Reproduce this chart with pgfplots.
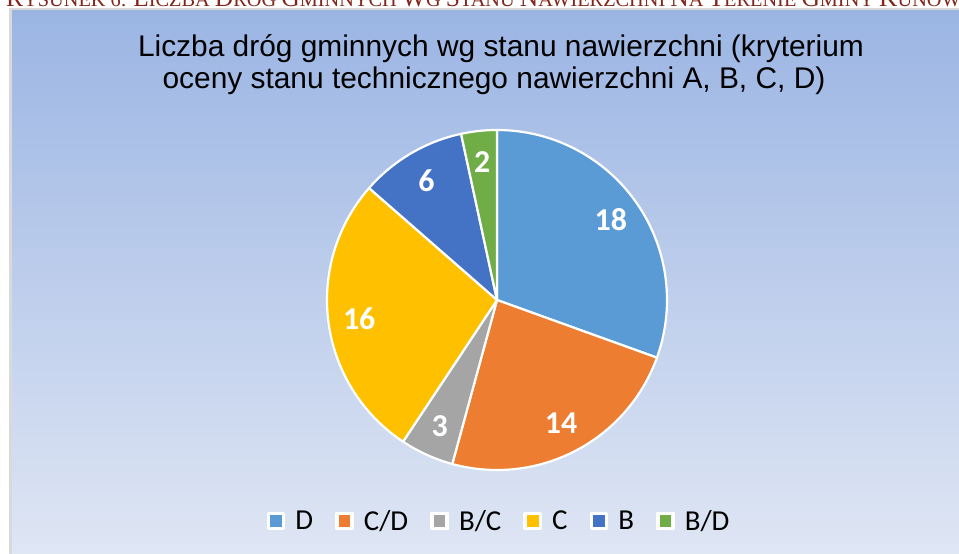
\documentclass[border=0pt]{standalone}
\usepackage{pgfplots}
\usepackage{pgfplotstable}
\pgfplotsset{compat=1.18}
\usepackage{fontspec}
\setmainfont{Liberation Sans}
\newfontfamily\titlefont{Liberation Sans}
\newfontfamily\calib{Carlito}
\newfontfamily\capfont{Liberation Serif}

\definecolor{colD}{HTML}{5B9BD5}
\definecolor{colCD}{HTML}{ED7D31}
\definecolor{colBC}{HTML}{A5A5A5}
\definecolor{colC}{HTML}{FFC000}
\definecolor{colB}{HTML}{4472C4}
\definecolor{colBD}{HTML}{70AD47}
\definecolor{bgTop}{HTML}{9BB5E3}
\definecolor{bgBot}{HTML}{DFE6F4}
\definecolor{frame}{HTML}{D9D9D9}
\definecolor{capred}{RGB}{128,38,28}

\pgfplotstableread{
label value
D 18
C/D 14
B/C 3
C 16
B 6
B/D 2
}\piedata

% pie geometry (pixel units, y measured upward)
\def\cx{497}
\def\cy{254}
\def\R{170}
\def\Rl{139}

\gdef\total{0}
\foreach \k in {0,...,5}{%
  \pgfplotstablegetelem{\k}{value}\of\piedata
  \pgfmathsetmacro\tt{\total+\pgfplotsretval}%
  \xdef\total{\tt}%
}
\gdef\cum{0}
\foreach \k in {0,...,5}{%
  \pgfplotstablegetelem{\k}{value}\of\piedata
  \edef\val{\pgfplotsretval}%
  \pgfmathsetmacro\sA{90-360*(\cum/\total)}%
  \pgfmathsetmacro\cA{\cum+\val}%
  \pgfmathsetmacro\eA{90-360*(\cA/\total)}%
  \pgfmathsetmacro\mA{(\sA+\eA)/2}%
  \pgfmathsetmacro\lx{\cx+\Rl*cos(\mA)}%
  \pgfmathsetmacro\ly{\cy+\Rl*sin(\mA)}%
  \expandafter\xdef\csname sa\k\endcsname{\sA}%
  \expandafter\xdef\csname ea\k\endcsname{\eA}%
  \expandafter\xdef\csname lx\k\endcsname{\lx}%
  \expandafter\xdef\csname ly\k\endcsname{\ly}%
  \pgfmathtruncatemacro\vv{\val}%
  \expandafter\xdef\csname v\k\endcsname{\vv}%
  \xdef\cum{\cA}%
}

\newcommand\slice[3]{% index, colour, legend text
  \addplot[fill=#2, draw=white, line width=2.2bp, line join=round,
    domain=\csname ea#1\endcsname:\csname sa#1\endcsname, samples=90, variable=\t]
    ({\cx+\R*cos(\t)}, {\cy+\R*sin(\t)}) -- (axis cs:\cx,\cy) -- cycle;
  \addlegendentry{#3}
}
\newcommand\B[1]{{\fontsize{25.6}{25.6}\selectfont #1}}

\begin{document}
\begin{tikzpicture}
\begin{axis}[
  width=959bp, height=554bp, scale only axis,
  xmin=0, xmax=959, ymin=0, ymax=554,
  hide axis, clip=false,
  legend columns=-1,
  legend style={draw=none, fill=none, at={(axis cs:498,33)}, anchor=center,
    font=\calib\fontsize{29}{29}\selectfont,
    nodes={inner sep=0pt},
    /tikz/every odd column/.append style={column sep=10bp},
    /tikz/every even column/.append style={column sep=22bp},
    inner sep=0pt, outer sep=0pt},
  legend image code/.code={%
    \draw[draw=white, line width=3.6bp, fill] (1.8bp,-7.6bp) rectangle (17bp,7.6bp);},
  legend cell align=left,
]
% background
\fill[frame] (axis cs:9,0) rectangle (axis cs:975,546);
\shade[top color=bgTop, bottom color=bgBot] (axis cs:12,0) rectangle (axis cs:975,543);
% caption (cut off at the top)
\node[anchor=base west, inner sep=0pt, text=capred,
  font=\capfont\fontsize{20.4}{20.4}\selectfont] at (axis cs:6,547)
  {\B{R}YSUNEK 6: \B{L}ICZBA \B{D}RÓG \B{G}MINNYCH \B{W}G \B{S}TANU \B{N}AWIERZCHNI \B{N}A \B{T}ERENIE \B{G}MINY \B{K}UNÓW};
% title
\node[inner sep=0pt, anchor=base, text=black,
  font=\titlefont\fontsize{30}{32}\selectfont] at (axis cs:501,497)
  {Liczba dróg gminnych wg stanu nawierzchni (kryterium};
\node[inner sep=0pt, anchor=base, text=black,
  font=\titlefont\fontsize{30}{32}\selectfont] at (axis cs:494,465.5)
  {oceny stanu technicznego nawierzchni A, B, C, D)};

\slice{0}{colD}{D}
\slice{1}{colCD}{C/D}
\slice{2}{colBC}{B/C}
\slice{3}{colC}{C}
\slice{4}{colB}{B}
\slice{5}{colBD}{B/D}

\pgfplotsinvokeforeach{0,...,5}{%
  \node[text=white, font=\calib\bfseries\fontsize{32}{32}\selectfont, inner sep=0pt]
    at (axis cs:\csname lx#1\endcsname,\csname ly#1\endcsname) {\csname v#1\endcsname};
}
\end{axis}
\pgfresetboundingbox
\path[use as bounding box] (current axis.south west) rectangle (current axis.north east);
\end{tikzpicture}
\end{document}
